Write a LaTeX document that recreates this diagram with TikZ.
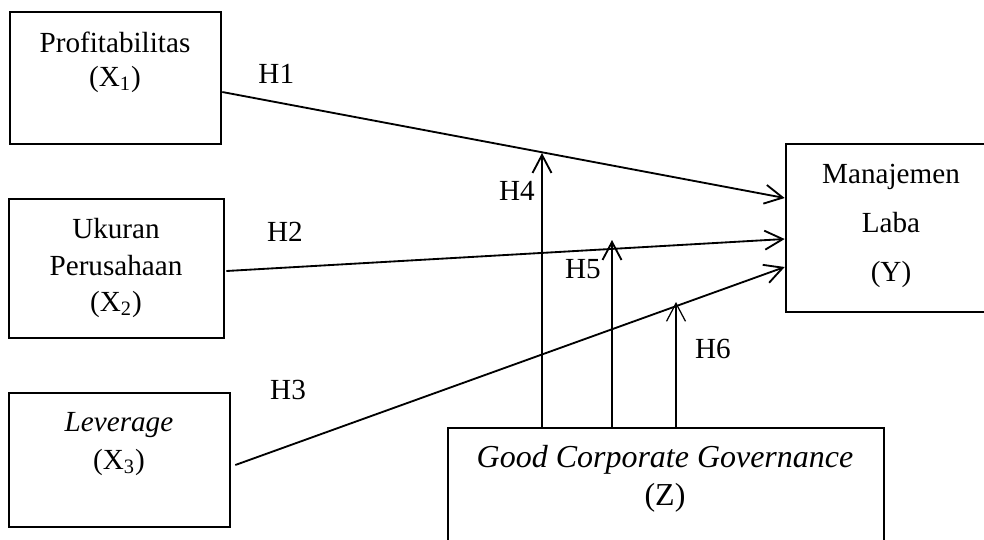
\documentclass[tikz,border=0pt]{standalone}
\usepackage{fontspec}
\setmainfont{Liberation Serif}
\usetikzlibrary{arrows.meta,calc}

\tikzset{
  box/.style={draw, line width=1.5pt, rectangle, inner sep=0pt},
  txt/.style={align=center, inner sep=0pt},
  lab/.style={inner sep=0pt, font=\fontsize{16.6}{20}\selectfont},
  arr/.style={line width=1.05pt, -{Straight Barb[length=3.6mm,width=3.8mm]}},
}

\begin{document}
\begin{tikzpicture}[x=0.02cm, y=-0.02cm]
  \useasboundingbox (0,0) rectangle (984,539);
  \clip (0,0) rectangle (984,539);
  % boxes
  \node[box, minimum width=4.22cm, minimum height=2.64cm] (x1) at (115.5,78) {};
  \node[box, minimum width=4.30cm, minimum height=2.78cm] (x2) at (116.5,268.5) {};
  \node[box, minimum width=4.42cm, minimum height=2.68cm] (x3) at (119.5,460) {};
  \node[box, minimum width=4.20cm, minimum height=3.36cm] (y) at (891,228) {};
  \node[box, minimum width=8.72cm, minimum height=2.64cm] (z) at (666,494) {};
  % texts in the boxes
  \node[txt, font=\fontsize{16.6}{19.5}\selectfont] (x1t) at (115,62) {Profitabilitas\\(X\textsubscript{1})};
  \node[txt, font=\fontsize{16.6}{20.7}\selectfont] (x2t) at (116,268) {Ukuran\\Perusahaan\\(X\textsubscript{2})};
  \node[txt, font=\fontsize{16.6}{21.5}\selectfont] (x3t) at (119,444) {\textit{Leverage}\\(X\textsubscript{3})};
  \node[txt, font=\fontsize{16.6}{28}\selectfont] (yt) at (891,226) {Manajemen\\Laba\\(Y)};
  \node[txt, font=\fontsize{18.2}{21.5}\selectfont] (zt) at (665,479) {\textit{Good Corporate Governance}\\(Z)};
  % arrow tips of the moderating paths
  \coordinate (t4) at (542,153);
  \coordinate (t5) at (612,240);
  \coordinate (t6) at (676,302);
  % direct effects
  \draw[arr] ($(x1.east)+(0,14)$) -- node[lab, pos=0.096, shift={(0,-28)}] (h1) {H1} ($(y.west)+(0,-30)$);
  \draw[arr] ($(x2.east)+(1,2.5)$) -- node[lab, pos=0.105, shift={(0,-36)}] (h2) {H2} ($(y.west)+(0,11)$);
  \draw[arr] ($(x3.east)+(4,5)$) -- node[lab, pos=0.096, shift={(0,-56)}] (h3) {H3} ($(y.west)+(0,39)$);
  % moderation
  \draw[arr] (t4 |- z.north) -- node[lab, pos=0.862, shift={(-25,0)}] (h4) {H4} (t4);
  \draw[arr] (t5 |- z.north) -- node[lab, pos=0.846, shift={(-29,0)}] (h5) {H5} (t5);
  \draw[arr, line width=0.7pt] (t6 |- z.north) -- node[lab, pos=0.627, shift={(37,0)}] (h6) {H6} (t6);
\end{tikzpicture}
\end{document}
